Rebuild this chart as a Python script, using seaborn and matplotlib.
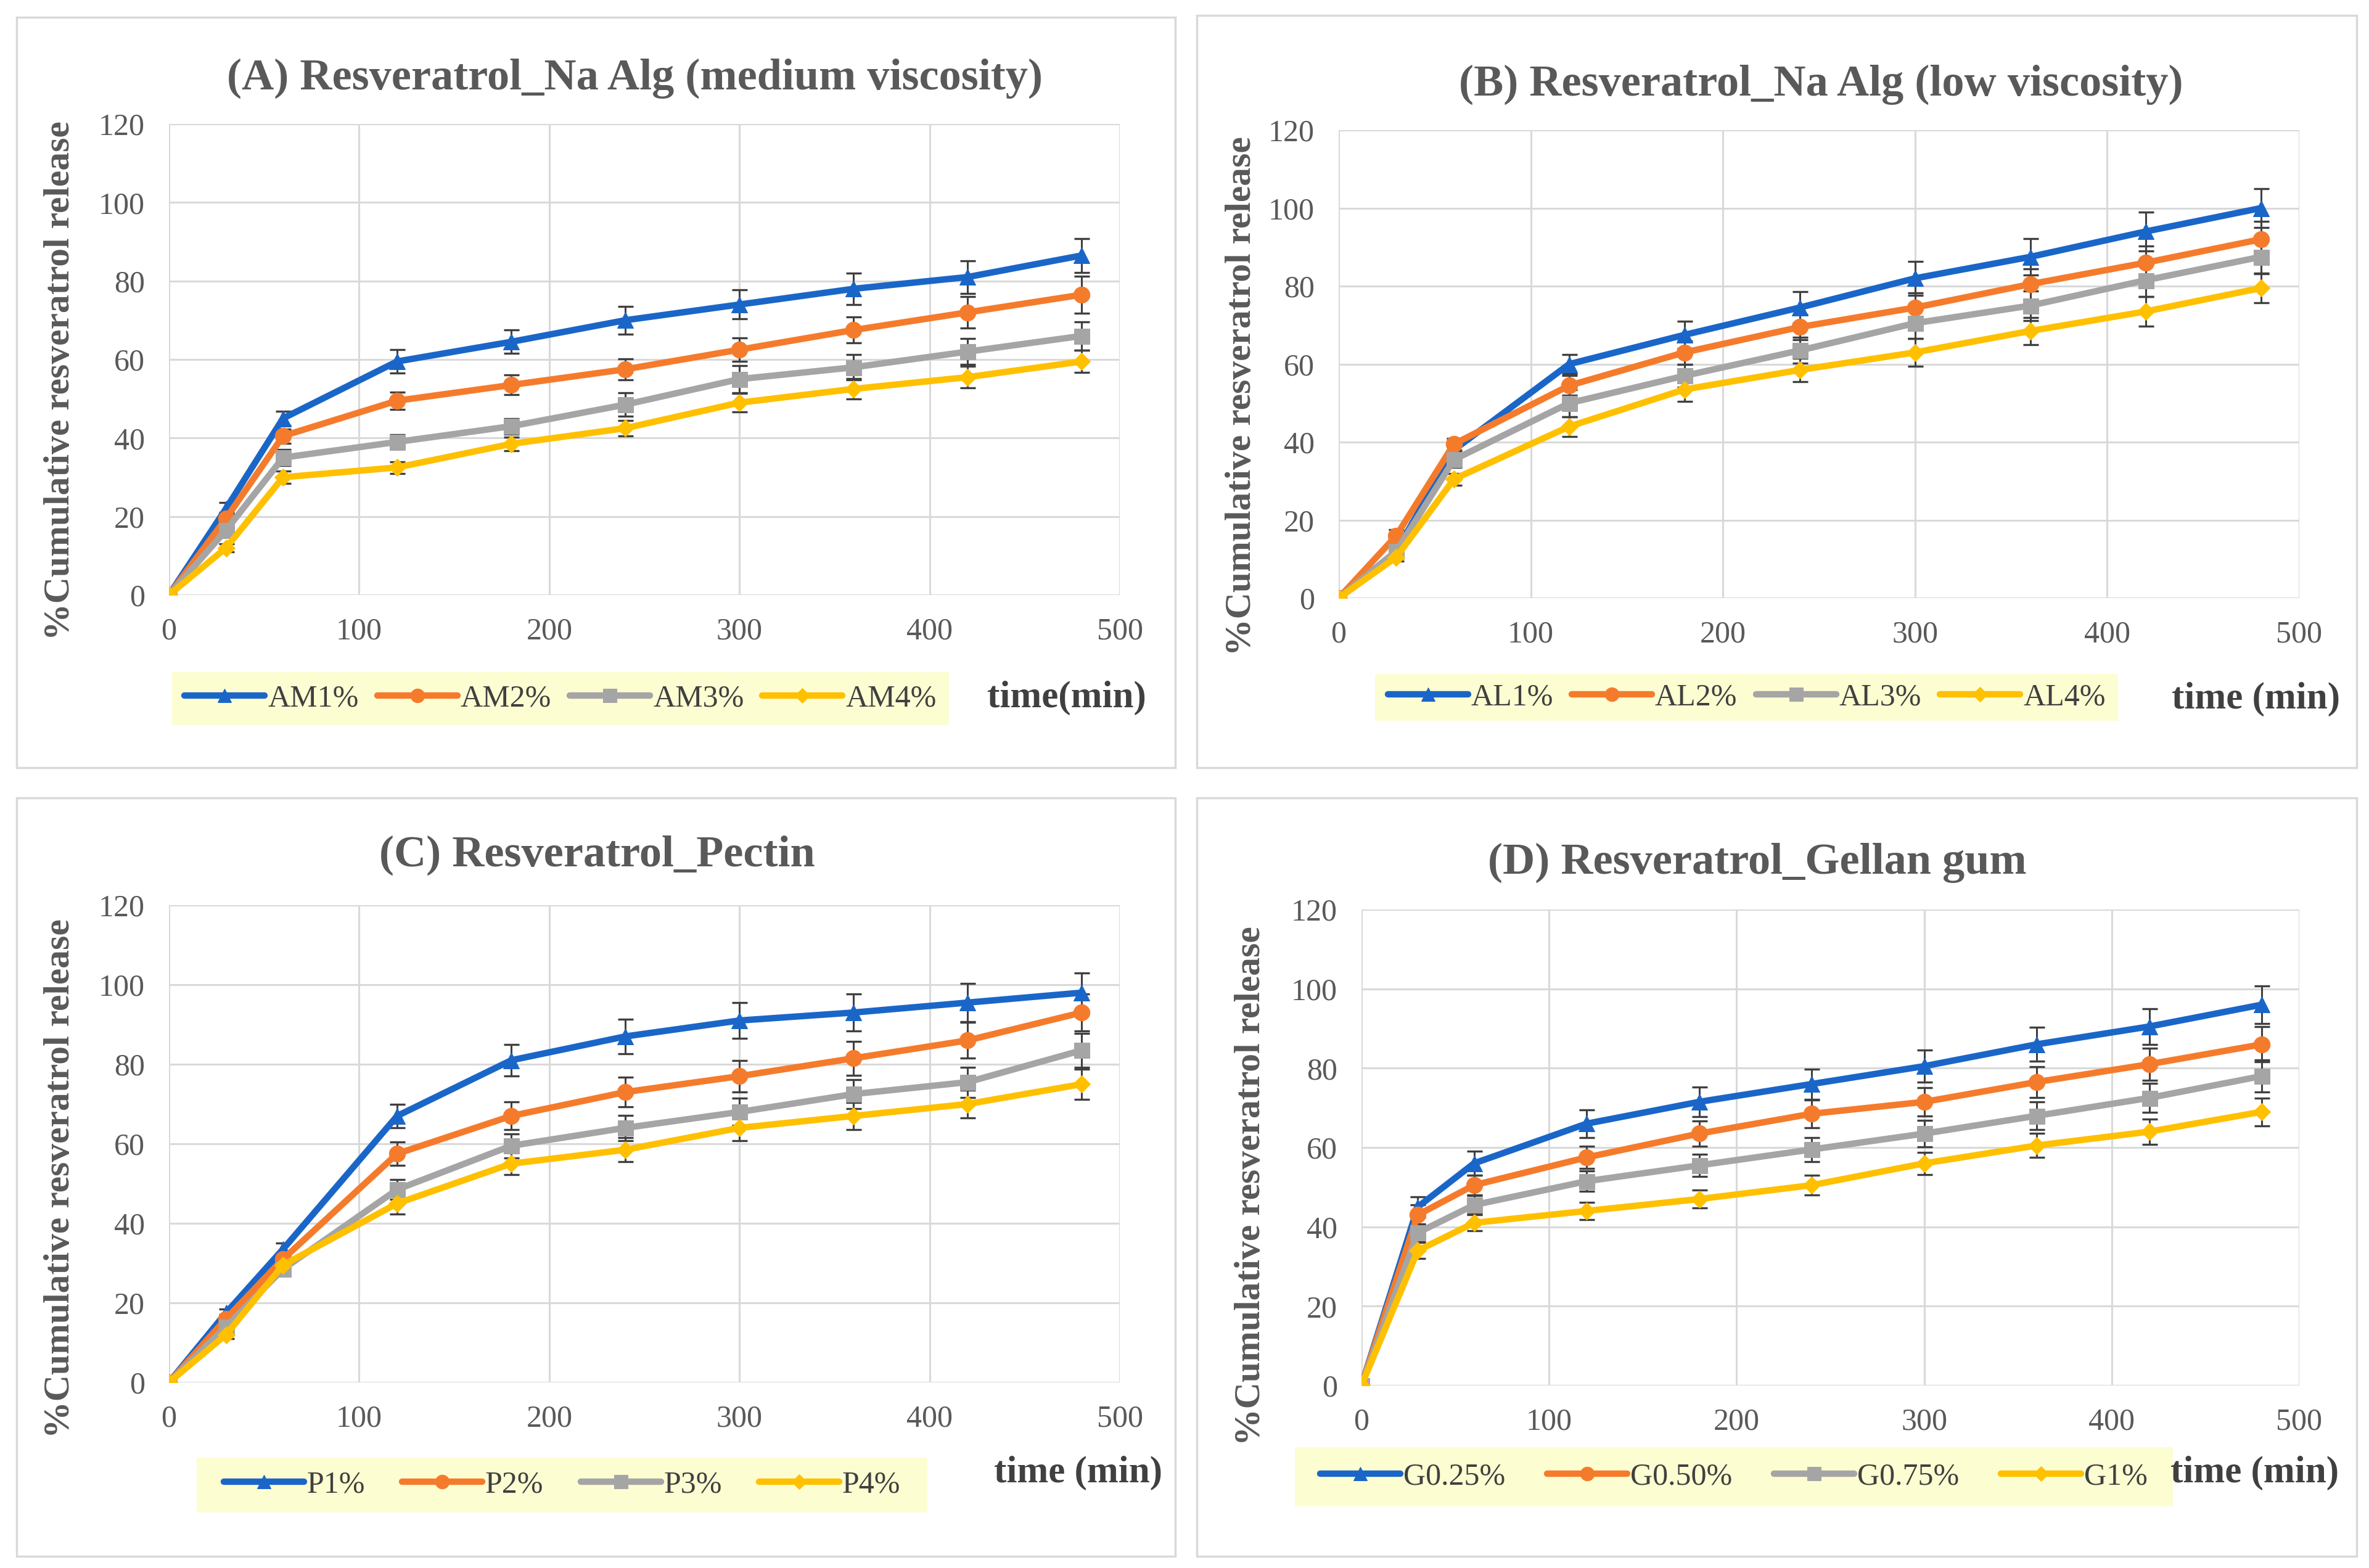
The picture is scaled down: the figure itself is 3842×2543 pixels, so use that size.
import numpy as np
import pandas as pd
import seaborn as sns
import matplotlib.pyplot as plt
from matplotlib.patches import Rectangle

# temps de prélèvement (min)
temps = [0, 30, 60, 120, 180, 240, 300, 360, 420, 480]

# (A) alginate de sodium, viscosité moyenne
am1 = [0, 22, 45, 59.5, 64.5, 70, 74, 78, 81, 86.5]
am2 = [0, 19.5, 40.5, 49.5, 53.5, 57.5, 62.5, 67.5, 72, 76.5]
am3 = [0, 16.5, 35, 39, 43, 48.5, 55, 58, 62, 66]
am4 = [0, 12, 30, 32.5, 38.5, 42.5, 49, 52.5, 55.5, 59.5]
am1_err = [0, 1.5, 1.8, 3, 3, 3.5, 3.7, 4, 4.2, 4.3]
am2_err = [0, 1.5, 1.8, 2.2, 2.5, 2.7, 3, 3.3, 4, 4.7]
am3_err = [0, 1.5, 2, 1.8, 2, 3, 3.5, 3.2, 3.3, 3.6]
am4_err = [0, 1, 1.5, 1.5, 1.7, 2, 2.4, 2.6, 2.8, 2.8]

# (B) alginate de sodium, faible viscosité
al1 = [0, 12, 38, 60, 67.5, 74.5, 82, 87.5, 94, 100]
al2 = [0, 16, 39.5, 54.5, 63, 69.5, 74.5, 80.5, 86, 92]
al3 = [0, 12, 35.5, 50, 57, 63.5, 70.5, 75, 81.5, 87.5]
al4 = [0, 10.5, 30.5, 44, 53.5, 58.5, 63, 68.5, 73.5, 79.5]
al1_err = [0, 1.5, 2, 2.5, 3.5, 4, 4.3, 4.6, 5, 5]
al2_err = [0, 1.5, 1.5, 2.5, 3, 3.3, 3.7, 4, 4.3, 4.6]
al3_err = [0, 1.5, 2, 3.5, 3, 3.3, 4, 3.8, 4.2, 4.3]
al4_err = [0, 1, 1.5, 2.5, 3, 3, 3.5, 3.5, 3.8, 3.8]

# (C) pectine
p1 = [0, 17.5, 33.5, 67, 81, 87, 91, 93, 95.5, 98]
p2 = [0, 16, 31, 57.5, 67, 73, 77, 81.5, 86, 93]
p3 = [0, 14, 28.5, 48.5, 59.5, 64, 68, 72.5, 75.5, 83.5]
p4 = [0, 12, 29.5, 45, 55, 58.5, 64, 67, 70, 75]
p1_err = [0, 1, 1.5, 3, 4, 4.3, 4.5, 4.7, 4.8, 5]
p2_err = [0, 1, 1.5, 3, 3.5, 3.7, 4, 4.3, 4.5, 4.7]
p3_err = [0, 1, 1.5, 2.5, 3, 3.2, 3.4, 3.6, 3.8, 4.2]
p4_err = [0, 1, 1.5, 2.7, 2.8, 3, 3.2, 3.4, 3.5, 3.8]

# (D) gomme gellane
g025 = [0, 45, 56, 66, 71.5, 76, 80.5, 86, 90.5, 96]
g050 = [0, 43, 50.5, 57.5, 63.5, 68.5, 71.5, 76.5, 81, 86]
g075 = [0, 38.5, 45.5, 51.5, 55.5, 59.5, 63.5, 68, 72.5, 78]
g1 = [0, 34, 41, 44, 47, 50.5, 56, 60.5, 64, 69]
g025_err = [0, 2.5, 3, 3.5, 3.7, 3.8, 4, 4.3, 4.5, 4.8]
g050_err = [0, 2.5, 2.5, 2.8, 3.2, 3.5, 3.6, 3.9, 4.1, 4.4]
g075_err = [0, 2.3, 2.3, 2.6, 2.8, 3, 3.3, 3.5, 3.7, 4]
g1_err = [0, 2, 2, 2.2, 2.3, 2.5, 2.8, 3, 3.2, 3.5]

etiquettes_a = ['AM1%', 'AM2%', 'AM3%', 'AM4%']
etiquettes_b = ['AL1%', 'AL2%', 'AL3%', 'AL4%']
etiquettes_c = ['P1%', 'P2%', 'P3%', 'P4%']
etiquettes_d = ['G0.25%', 'G0.50%', 'G0.75%', 'G1%']

couleurs = ['#1A66C8', '#F57B2C', '#A5A5A5', '#FFC000']
marqueurs = ['^', 'o', 's', 'D']
tailles = [19, 19, 18, 14]

W, H = 3842, 2543
GRIS_TXT = '#595959'


def rect_px(x0, y0, x1, y1):
    return [x0 / W, 1 - y1 / H, (x1 - x0) / W, (y1 - y0) / H]


def tracer(fig, series, erreurs, etiquettes, titre, xlab, pos):
    ax = fig.add_axes(rect_px(*pos['axes']))
    df = pd.DataFrame({'temps': temps})
    for i, (y, e, lab) in enumerate(zip(series, erreurs, etiquettes)):
        df[lab] = y
        ax.errorbar(temps, y, yerr=e, fmt='none', ecolor='#404040',
                    elinewidth=2.2, capsize=9, capthick=2.4, zorder=2)
        sns.lineplot(data=df, x='temps', y=lab, ax=ax, color=couleurs[i],
                     marker=marqueurs[i], markersize=tailles[i],
                     markeredgecolor=couleurs[i], linewidth=7.5,
                     label=lab, zorder=3 + i * 0.01)
    ax.set_xlim(0, 500)
    ax.set_ylim(0, 120)
    ax.set_xticks(range(0, 501, 100))
    ax.set_yticks(range(0, 121, 20))
    ax.grid(True, color='#D9D9D9', linewidth=2.2)
    ax.set_axisbelow(True)
    for s in ax.spines.values():
        s.set_visible(False)
    ax.tick_params(axis='both', length=0, labelsize=36, labelcolor=GRIS_TXT)
    ax.tick_params(axis='x', pad=26)
    ax.tick_params(axis='y', pad=28)
    ax.set_xlabel('')
    ax.set_ylabel('%Cumulative resveratrol release', fontsize=43,
                  fontweight='bold', color=GRIS_TXT, va='center')
    ax.yaxis.set_label_coords(*pos['ylab'], transform=fig.transFigure)

    fig.text(pos['titre'][0] / W, 1 - pos['titre'][1] / H, titre,
             ha='center', va='center', fontsize=52, fontweight='bold',
             color=GRIS_TXT)
    fig.text(pos['xlab'][0] / W, 1 - pos['xlab'][1] / H, xlab,
             ha='center', va='center', fontsize=44, fontweight='bold',
             color='#404040')

    # fond jaune de la légende, sous les axes
    lx0, ly0, lx1, ly1 = pos['leg']
    fig.patches.append(Rectangle((lx0 / W, 1 - ly1 / H), (lx1 - lx0) / W,
                                 (ly1 - ly0) / H, transform=fig.transFigure,
                                 facecolor='#FDFDD2', edgecolor='none',
                                 zorder=-2))
    leg = ax.legend(loc='center', ncol=4, frameon=False, fontsize=36,
                    bbox_to_anchor=((lx0 + lx1) / 2 / W,
                                    1 - (ly0 + ly1) / 2 / H),
                    bbox_transform=fig.transFigure, handlelength=2.6,
                    handletextpad=0.1, columnspacing=pos['esp'],
                    markerscale=0.85)
    for t in leg.get_texts():
        t.set_color('#404040')

    bx0, by0, bx1, by1 = pos['cadre']
    fig.patches.append(Rectangle((bx0 / W, 1 - by1 / H), (bx1 - bx0) / W,
                                 (by1 - by0) / H, transform=fig.transFigure,
                                 facecolor='none', edgecolor='#D9D9D9',
                                 linewidth=2.5, zorder=-2))
    return ax


def main():
    sns.set_style('white')
    plt.rcParams['font.family'] = ['Liberation Serif', 'DejaVu Serif']

    fig = plt.figure(figsize=(W / 100, H / 100), dpi=100)

    pos_a = dict(axes=(274, 201, 1816, 965), titre=(1029, 127),
                 ylab=(98 / W, 1 - 617 / H), leg=(279, 1090, 1539, 1176),
                 xlab=(1730, 1132), cadre=(27, 28, 1906, 1245), esp=0.6)
    pos_b = dict(axes=(2171, 211, 3729, 970), titre=(2953, 137),
                 ylab=(2014 / W, 1 - 642 / H), leg=(2230, 1093, 3435, 1169),
                 xlab=(3658, 1134), cadre=(1941, 25, 3822, 1245), esp=0.6)
    pos_c = dict(axes=(274, 1468, 1816, 2242), titre=(968, 1387),
                 ylab=(98 / W, 1 - 1911 / H), leg=(319, 2364, 1504, 2453),
                 xlab=(1748, 2389), cadre=(27, 1294, 1906, 2524), esp=1.2)
    pos_d = dict(axes=(2208, 1475, 3729, 2247), titre=(2850, 1399),
                 ylab=(2029 / W, 1 - 1923 / H), leg=(2100, 2347, 3524, 2443),
                 xlab=(3656, 2389), cadre=(1941, 1294, 3822, 2524), esp=1.35)

    tracer(fig, [am1, am2, am3, am4], [am1_err, am2_err, am3_err, am4_err],
           etiquettes_a, '(A) Resveratrol_Na Alg (medium viscosity)',
           'time(min)', pos_a)
    tracer(fig, [al1, al2, al3, al4], [al1_err, al2_err, al3_err, al4_err],
           etiquettes_b, '(B) Resveratrol_Na Alg (low viscosity)',
           'time (min)', pos_b)
    tracer(fig, [p1, p2, p3, p4], [p1_err, p2_err, p3_err, p4_err],
           etiquettes_c, '(C) Resveratrol_Pectin', 'time (min)', pos_c)
    tracer(fig, [g025, g050, g075, g1], [g025_err, g050_err, g075_err, g1_err],
           etiquettes_d, '(D) Resveratrol_Gellan gum', 'time (min)', pos_d)

    fig.savefig('out.png', dpi=100, facecolor='white')


if __name__ == "__main__":
    main()
